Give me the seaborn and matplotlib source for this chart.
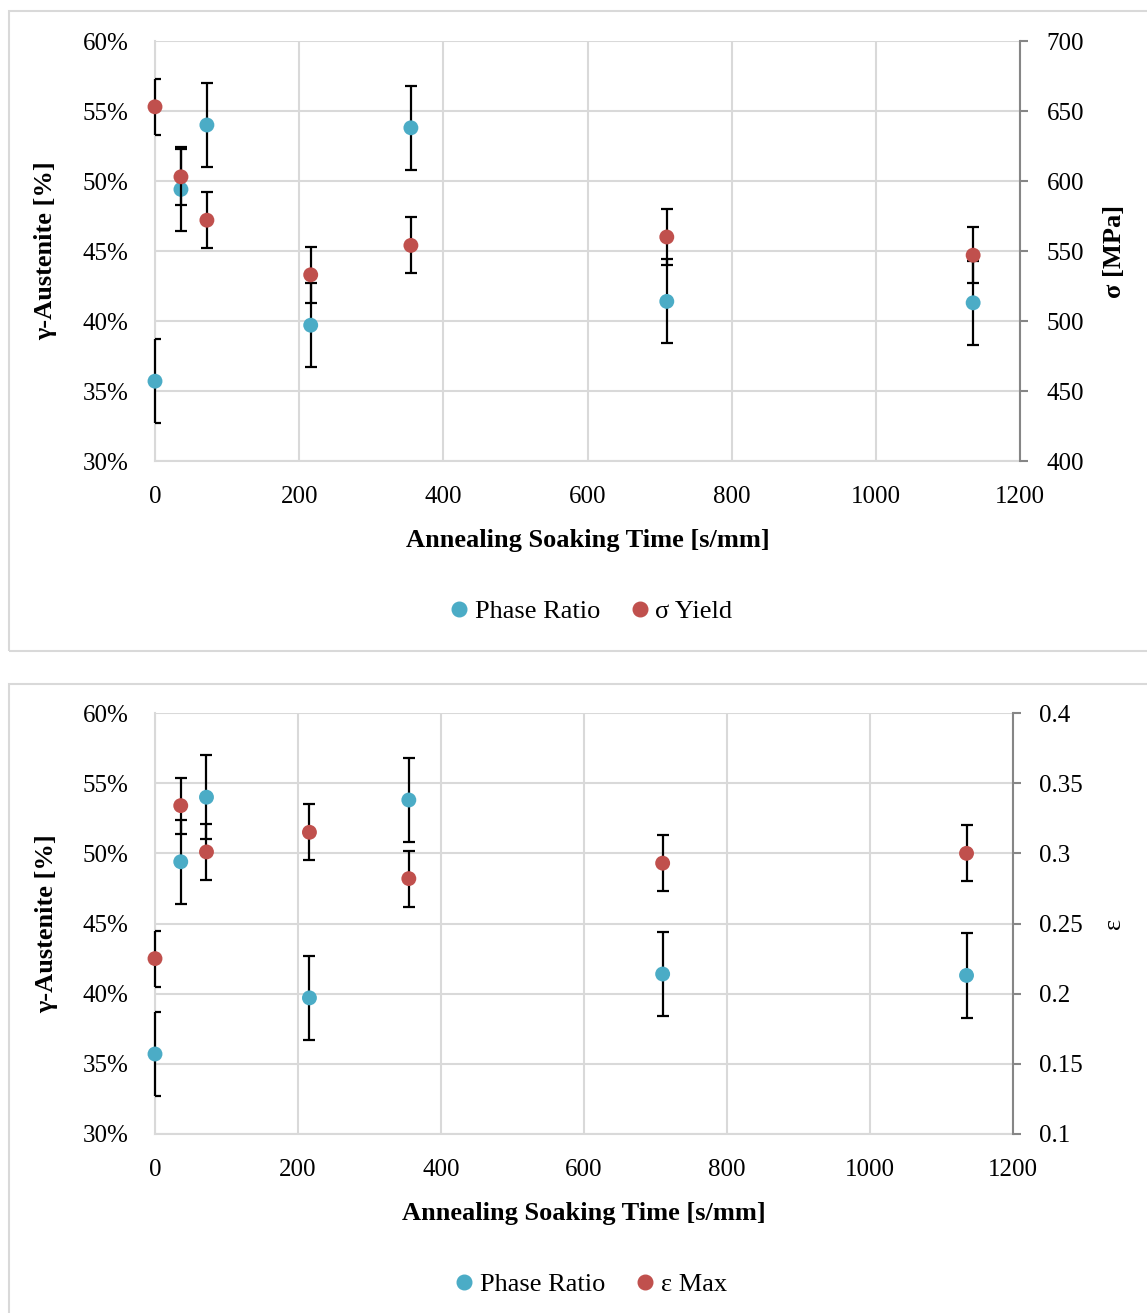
import numpy as np
import pandas as pd
import matplotlib
matplotlib.use("Agg")
import matplotlib.pyplot as plt
import seaborn as sns
from matplotlib.patches import Rectangle
from matplotlib.lines import Line2D
from matplotlib.ticker import PercentFormatter, FixedLocator

# Data
# ------------------------------------
soak_time = [0, 36, 72, 216, 355, 710, 1135]
phase_ratio = [35.7, 49.4, 54.0, 39.7, 53.8, 41.4, 41.3]      # gamma-austenite [%]
phase_ratio_err = [3.0, 3.0, 3.0, 3.0, 3.0, 3.0, 3.0]
sigma_yield = [653, 603, 572, 533, 554, 560, 547]             # [MPa]
sigma_yield_err = [20, 20, 20, 20, 20, 20, 20]
eps_max = [0.225, 0.334, 0.301, 0.315, 0.282, 0.293, 0.300]
eps_max_err = [0.02, 0.02, 0.02, 0.02, 0.02, 0.02, 0.02]

BLUE = "#4BACC6"
RED = "#C0504D"
GRID = "#D9D9D9"
SPINE = "#868686"

W, H = 1147, 1313
TICK_FS = 18
LABEL_FS = 19

sns.set_style("white")
plt.rcParams["font.family"] = ["Liberation Serif", "DejaVu Serif"]
plt.rcParams["text.color"] = "black"
plt.rcParams["axes.labelcolor"] = "black"
plt.rcParams["xtick.color"] = "black"
plt.rcParams["ytick.color"] = "black"

df = pd.DataFrame({
  "time": soak_time,
  "phase": phase_ratio,
  "phase_err": phase_ratio_err,
  "sigma": sigma_yield,
  "sigma_err": sigma_yield_err,
  "eps": eps_max,
  "eps_err": eps_max_err,
})

fig = plt.figure(figsize=(W / 100, H / 100), dpi=100)


def px_axes(left, right, top, bottom):
  return fig.add_axes([left / W, 1 - bottom / H, (right - left) / W, (bottom - top) / H])


def add_series(ax, col, err_col, color):
  # error bars first, markers on top; whiskers may sit on the axis line at x=0
  eb = ax.errorbar(df["time"], df[col], yerr=df[err_col], fmt="none",
                   ecolor="black", elinewidth=1.6, capsize=4.5, capthick=1.6, zorder=2.7)
  for lc in eb[2]:
    lc.set_clip_on(False)
  sns.scatterplot(data=df, x="time", y=col, ax=ax, color=color, s=115,
                  edgecolor="none", zorder=3, legend=False, clip_on=False)


def draw_panel(ax, right_col, right_err, right_lim, right_ticks, right_label, legend_label, legend_y):
  # left axis: phase ratio
  ax.set_xlim(0, 1200)
  ax.set_ylim(30, 60)
  ax.xaxis.set_major_locator(FixedLocator(np.arange(0, 1201, 200)))
  ax.yaxis.set_major_locator(FixedLocator(np.arange(30, 61, 5)))
  ax.yaxis.set_major_formatter(PercentFormatter(100, decimals=0))
  ax.grid(True, color=GRID, linewidth=1.5)
  ax.set_axisbelow(True)
  for s in ["top", "right"]:
    ax.spines[s].set_visible(False)
  for s in ["left", "bottom"]:
    ax.spines[s].set_color(GRID)
    ax.spines[s].set_linewidth(1.5)
  ax.tick_params(axis="both", length=0, labelsize=TICK_FS)
  ax.tick_params(axis="x", pad=18)
  ax.tick_params(axis="y", pad=19)

  add_series(ax, "phase", "phase_err", BLUE)
  ax.set_xlabel("Annealing Soaking Time [s/mm]", fontsize=LABEL_FS, fontweight="bold")
  ax.set_ylabel("\u03b3-Austenite [%]", fontsize=LABEL_FS, fontweight="bold")
  ax.xaxis.set_label_coords(0.5, -0.162)
  ax.yaxis.set_label_coords(-0.113, 0.5)

  # right axis
  ax2 = ax.twinx()
  ax2.set_ylim(*right_lim)
  ax2.yaxis.set_major_locator(FixedLocator(right_ticks))
  ax2.grid(False)
  for s in ["top", "left", "bottom"]:
    ax2.spines[s].set_visible(False)
  ax2.spines["right"].set_color(SPINE)
  ax2.spines["right"].set_linewidth(1.5)
  ax2.tick_params(axis="y", length=6, width=1.5, color=SPINE, direction="out",
                  labelsize=TICK_FS, labelcolor="black", pad=13)
  add_series(ax2, right_col, right_err, RED)
  ax2.set_ylabel(right_label, fontsize=LABEL_FS, fontweight="bold", rotation=90)
  ax2.yaxis.set_label_coords(1.096, 0.5)
  ax2.set_xlim(0, 1200)

  handles = [
    Line2D([], [], marker="o", linestyle="none", color=BLUE, markersize=10.5, label="Phase Ratio"),
    Line2D([], [], marker="o", linestyle="none", color=RED, markersize=10.5, label=legend_label),
  ]
  fig.legend(handles=handles, loc="center", ncol=2, frameon=False, fontsize=LABEL_FS,
             bbox_to_anchor=(589 / W, 1 - legend_y / H), handletextpad=0.1,
             columnspacing=1.0, handlelength=1.0)
  return ax2


# top panel: phase ratio vs yield strength
ax_top = px_axes(155, 1020, 41, 461)
draw_panel(ax_top, "sigma", "sigma_err", (400, 700), np.arange(400, 701, 50),
           "\u03c3 [MPa]", "\u03c3 Yield", 611)

# bottom panel: phase ratio vs max strain
ax_bot = px_axes(155, 1013, 713, 1134)
ax_bot2 = draw_panel(ax_bot, "eps", "eps_err", (0.1, 0.4), np.round(np.arange(0.1, 0.401, 0.05), 2),
                     "\u03b5", "\u03b5 Max", 1284)
ax_bot2.yaxis.set_major_formatter(plt.FuncFormatter(lambda v, p: f"{v:g}"))
ax_bot2.yaxis.set_label_coords(1.105, 0.5)
ax_bot2.yaxis.label.set_fontweight("normal")

# chart area frames
for y0, y1 in [(11, 651), (684, 1320)]:
  fig.patches.append(Rectangle((8.5 / W, 1 - y1 / H), (1160 - 8.5) / W, (y1 - y0) / H,
                               transform=fig.transFigure, fill=False,
                               edgecolor=GRID, linewidth=1.5, zorder=0))

fig.savefig("out.png", dpi=100)
